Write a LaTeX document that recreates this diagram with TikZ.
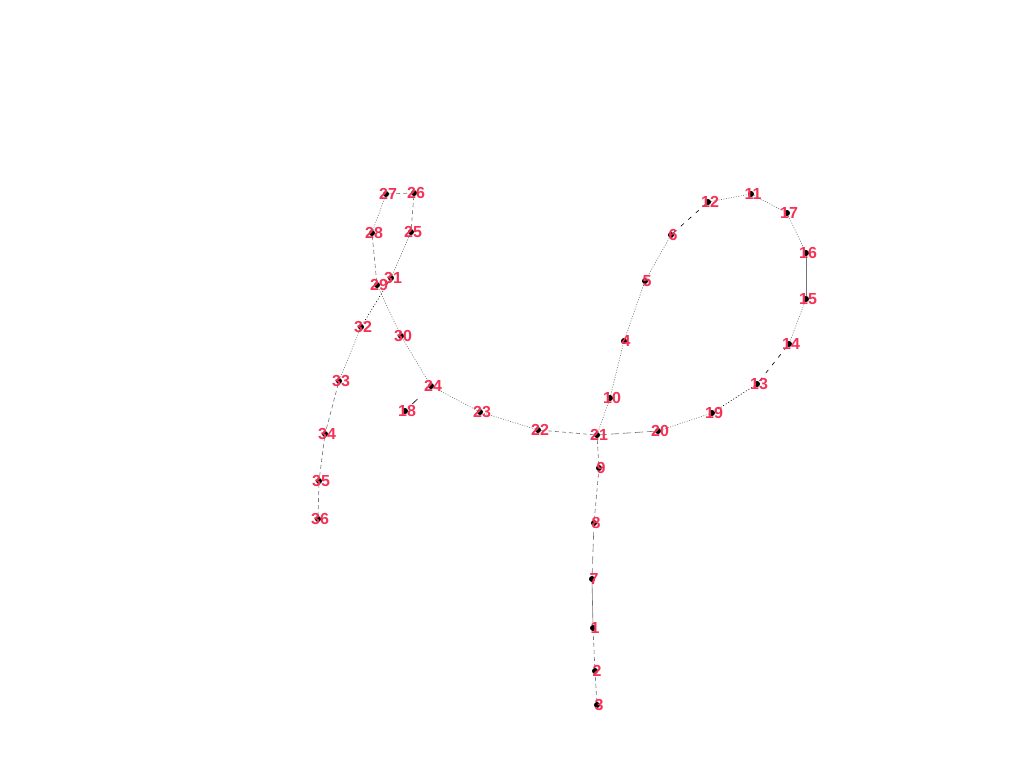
\documentclass[tikz,border=0pt]{standalone}
\usepackage{fontspec}
\setmainfont{Liberation Sans}
\usetikzlibrary{backgrounds}
\definecolor{lblred}{RGB}{245,50,85}
\begin{document}
\begin{tikzpicture}[x=1pt, y=-1pt,
    pt/.style={circle, fill=black, inner sep=0pt, minimum size=6pt},
    lbl/.style={text=lblred, font=\bfseries\fontsize{16}{16}\selectfont, inner sep=0pt},
    ln/.style={gray!90!black, line width=0.6pt},
    dsh/.style={ln, dash pattern=on 4pt off 3pt},
    lng/.style={ln, dash pattern=on 8pt off 4pt},
    dot/.style={ln, dash pattern=on 1pt off 1.5pt},
    bdot/.style={black, line width=0.6pt, dash pattern=on 1pt off 2pt},
    bdsh/.style={black, line width=0.6pt, dash pattern=on 4pt off 6pt}]
\useasboundingbox (0,0) rectangle (1024,768);
% 点和标号
\foreach \n/\x/\y in {3/597/705, 2/595/671, 1/593/628, 7/592/579, 8/594/523,
    9/599/468, 21/597/435, 10/610/398, 4/624/341, 5/645/281, 6/671/235,
    12/708/202, 11/751/194, 17/787/213, 16/806/253, 15/806/299, 14/789/344,
    13/757/384, 19/712/413, 20/658/431, 22/538/430, 23/480/412, 24/431/386,
    18/405/411, 30/401/336, 29/377/285, 31/391/278, 25/411/232, 26/414/193,
    27/386/194, 28/372/233, 32/361/327, 33/339/381, 34/325/434, 35/319/481,
    36/318/519} {
  \node[pt] (n\n) at (\x,\y) {};
  \node[lbl] (l\n) at (\x+2,\y) {\n};
}
% 连线
\begin{scope}[on background layer]
\draw[dsh] (n3) -- (n2);
\draw[dsh] (n2) -- (n1);
\draw[ln] (n1) -- (n7);
\draw[lng] (n7) -- (n8);
\draw[dsh] (n8) -- (n9);
\draw[dsh] (n9) -- (n21);
\draw[dot] (n21) -- (n10);
\draw[dot] (n10) -- (n4);
\draw[dot] (n4) -- (n5);
\draw[dot] (n5) -- (n6);
\draw[bdsh] (n6) -- (n12);
\draw[dot] (n12) -- (n11);
\draw[dot] (n11) -- (n17);
\draw[dot] (n17) -- (n16);
\draw[ln] (n16) -- (n15);
\draw[dot] (n15) -- (n14);
\draw[bdsh] (n14) -- (n13);
\draw[bdot] (n13) -- (n19);
\draw[dot] (n19) -- (n20);
\draw[lng] (n20) -- (n21);
\draw[dsh] (n21) -- (n22);
\draw[dot] (n22) -- (n23);
\draw[dot] (n23) -- (n24);
\draw[black, line width=0.6pt, dash pattern=on 0pt off 7pt on 7pt off 30pt] (n18) -- (n24);
\draw[dot] (n24) -- (n30);
\draw[dot] (n30) -- (n29);
\draw[dsh] (n29) -- (n28);
\draw[dot] (n28) -- (n27);
\draw[dsh] (n27) -- (n26);
\draw[dsh] (n26) -- (n25);
\draw[dot] (n25) -- (n31);
\draw[bdot] (n31) -- (n32);
\draw[dot] (n32) -- (n33);
\draw[dsh] (n33) -- (n34);
\draw[dsh] (n34) -- (n35);
\draw[dsh] (n35) -- (n36);
\end{scope}
\end{tikzpicture}
\end{document}
